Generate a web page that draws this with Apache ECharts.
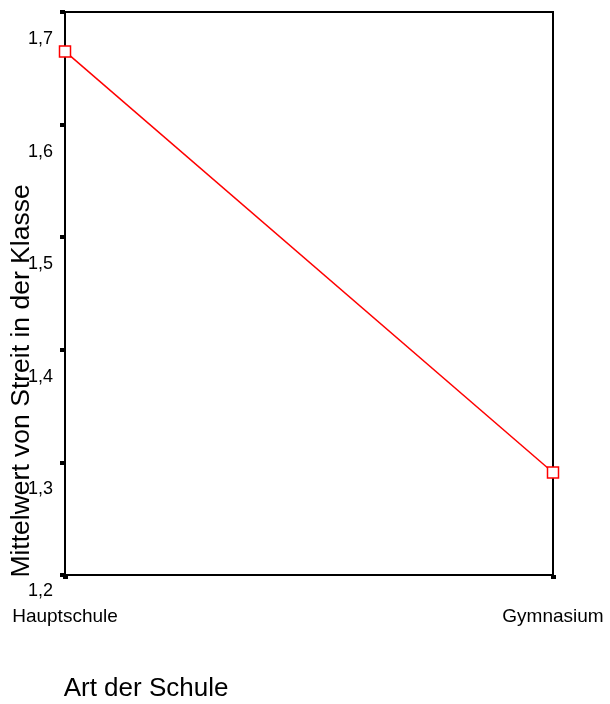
<!DOCTYPE html>
<html>
<head>
<meta charset="utf-8">
<script src="https://cdn.jsdelivr.net/npm/echarts@6/dist/echarts.min.js"></script>
<style>
html,body{margin:0;padding:0;background:#fff;}
#chart{width:610px;height:704px;}
</style>
</head>
<body>
<div id="chart"></div>
<script>
var categories = ['Hauptschule', 'Gymnasium'];
var meanValues = [1.665, 1.291];
var yTicks = [1.2, 1.3, 1.4, 1.5, 1.6, 1.7];
var yTitle = 'Mittelwert von Streit in der Klasse';
var xTitle = 'Art der Schule';

var FONT = '"Liberation Sans", Arial, sans-serif';
var chart = echarts.init(document.getElementById('chart'), null, {renderer: 'canvas'});
chart.setOption({
  animation: false,
  backgroundColor: '#fff',
  grid: {left: 65, right: 57, top: 12, bottom: 129, show: true, borderColor: '#000', borderWidth: 2, containLabel: false},
  xAxis: {
    type: 'category',
    data: categories,
    boundaryGap: false,
    axisLine: {lineStyle: {color: '#000', width: 2}},
    axisTick: {show: true, length: 4, alignWithLabel: true, lineStyle: {color: '#000', width: 5}},
    axisLabel: {color: '#000', fontFamily: FONT, fontSize: 19, margin: 32, interval: 0},
    splitLine: {show: false}
  },
  yAxis: {
    type: 'value',
    min: yTicks[0],
    max: yTicks[yTicks.length - 1],
    interval: 0.1,
    axisLine: {show: true, lineStyle: {color: '#000', width: 2}},
    axisTick: {show: true, length: 5, lineStyle: {color: '#000', width: 4}},
    splitLine: {show: false},
    axisLabel: {
      color: '#000', fontFamily: FONT, fontSize: 18, margin: 12,
      formatter: function (v) {
        var s = v.toFixed(1).replace('.', ',');
        return Math.abs(v - yTicks[0]) < 1e-9 ? '{b|' + s + '}' : '{a|' + s + '}';
      },
      rich: {
        a: {fontFamily: FONT, fontSize: 18, color: '#000', padding: [54, 0, 0, 0]},
        b: {fontFamily: FONT, fontSize: 18, color: '#000', padding: [32, 0, 0, 0]}
      }
    }
  },
  series: [{
    type: 'line',
    data: meanValues,
    symbol: 'rect',
    symbolSize: 11,
    lineStyle: {color: '#ff0000', width: 1.5},
    itemStyle: {color: '#fff', borderColor: '#ff0000', borderWidth: 1.5},
    clip: false
  }],
  graphic: [
    {type: 'text', x: 22, y: 381, rotation: Math.PI / 2,
     style: {text: yTitle, font: '26.5px ' + FONT, fill: '#000', align: 'center', verticalAlign: 'middle'}},
    {type: 'text', x: 146, y: 689,
     style: {text: xTitle, font: '26px ' + FONT, fill: '#000', align: 'center', verticalAlign: 'middle'}}
  ]
});
</script>
</body>
</html>
